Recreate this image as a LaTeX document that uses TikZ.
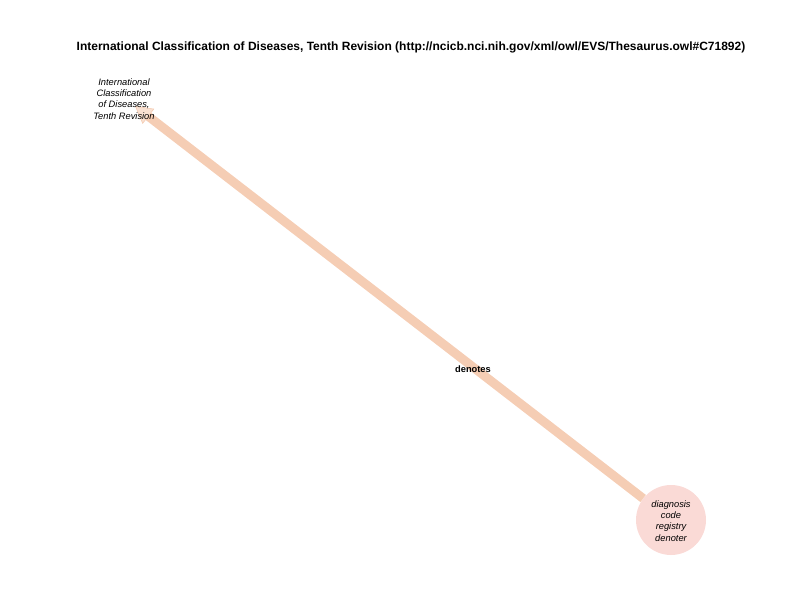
\documentclass[tikz,border=0pt]{standalone}
\usepackage{fontspec}
\setmainfont{Liberation Sans}
\usetikzlibrary{arrows.meta}
\definecolor{edgec}{RGB}{245,205,180}
\definecolor{nodec}{RGB}{250,218,214}
\tikzset{
  lbl/.style={font=\fontsize{9.3}{11.3}\selectfont\itshape, align=center, inner sep=0pt},
  conn/.style={draw=edgec, line width=9pt, -{Triangle[width=19pt,length=17pt,line width=0.6pt,fill=edgec!60,color=edgec]}},
  elbl/.style={font=\fontsize{9.3}{11}\selectfont\bfseries, inner sep=1pt}
}
\begin{document}
\begin{tikzpicture}[x=1pt,y=-1pt]
\useasboundingbox (0,0) rectangle (792,612);
\node[font=\fontsize{12}{14}\selectfont\bfseries] (title) at (411,47) {International Classification of Diseases, Tenth Revision (http://ncicb.nci.nih.gov/xml/owl/EVS/Thesaurus.owl\#C71892)};
\node[circle, fill=nodec, minimum size=70pt, inner sep=0pt] (b) at (671,520) {};
\coordinate (a) at (135,106);
\draw[conn] (b) -- (a);
\node[lbl] (at) at (124,99) {International\\Classification\\of Diseases,\\Tenth Revision};
\node[lbl] (bt) at (671,521) {diagnosis\\code\\registry\\denoter};
\node[elbl] (el) at (473,369) {denotes};
\end{tikzpicture}
\end{document}
